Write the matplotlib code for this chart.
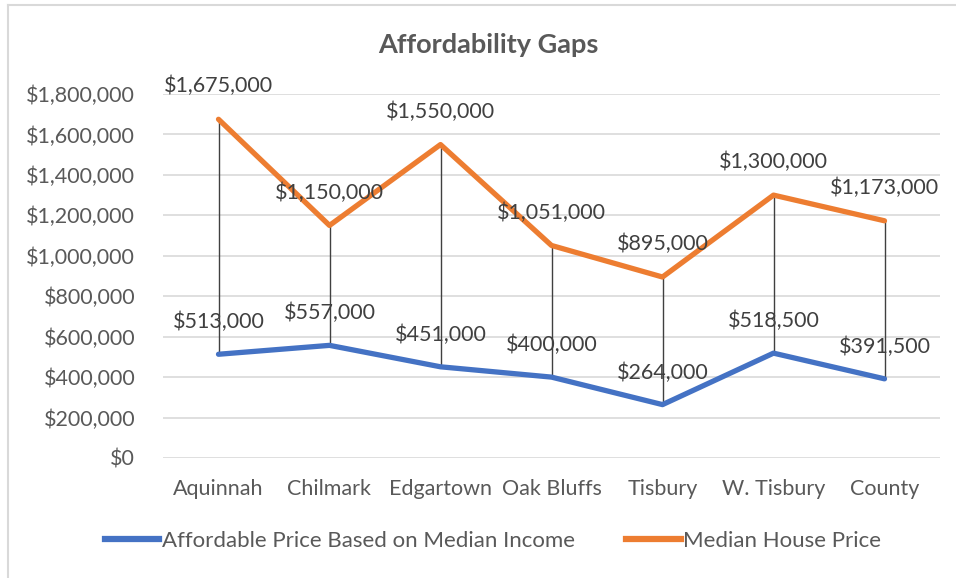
import matplotlib.pyplot as plt
from matplotlib.lines import Line2D
from matplotlib.ticker import FuncFormatter

towns = ["Aquinnah", "Chilmark", "Edgartown", "Oak Bluffs", "Tisbury", "W. Tisbury", "County"]
affordable = [513000, 557000, 451000, 400000, 264000, 518500, 391500]
median_price = [1675000, 1150000, 1550000, 1051000, 895000, 1300000, 1173000]

blue = "#4472c4"
orange = "#ed7d31"
grey_text = "#595959"

plt.rcParams["font.family"] = ["Lato", "DejaVu Sans"]

fig = plt.figure(figsize=(9.56, 5.78), dpi=100)
ax = fig.add_axes([163 / 956, 1 - 458 / 578, 777 / 956, 364 / 578])

x = list(range(len(towns)))

# high-low lines between the two series
for xi, lo, hi in zip(x, affordable, median_price):
    ax.plot([xi, xi], [lo, hi], color="#404040", lw=1, zorder=2)

ax.plot(x, affordable, color=blue, lw=3.8, solid_capstyle="round", zorder=3)
ax.plot(x, median_price, color=orange, lw=3.8, solid_capstyle="round", zorder=3)

for xi, v in zip(x, affordable):
    ax.annotate(f"${v:,.0f}", (xi, v), xytext=(0, 32), textcoords="offset pixels",
                ha="center", va="center", fontsize=15.5, color="#404040", zorder=4)
for xi, v in zip(x, median_price):
    ax.annotate(f"${v:,.0f}", (xi, v), xytext=(0, 33), textcoords="offset pixels",
                ha="center", va="center", fontsize=15.5, color="#404040", zorder=4)

ax.set_xlim(-0.5, len(towns) - 0.5)
ax.set_ylim(0, 1800000)
ax.set_yticks(range(0, 1800001, 200000))
ax.yaxis.set_major_formatter(FuncFormatter(lambda v, p: f"${v:,.0f}"))
ax.set_xticks(x)
ax.set_xticklabels(towns)
ax.tick_params(axis="both", length=0, labelsize=15.5, labelcolor=grey_text)
ax.tick_params(axis="x", pad=15)
ax.tick_params(axis="y", pad=20)
ax.grid(axis="y", color="#d9d9d9", lw=1.2)
ax.set_axisbelow(True)
for s in ax.spines.values():
    s.set_visible(False)

fig.text(488 / 956, 1 - 45 / 578, "Affordability Gaps", ha="center", va="center",
         fontsize=19.5, fontweight="bold", color=grey_text)

handles = [Line2D([], [], color=blue, lw=4.5),
           Line2D([], [], color=orange, lw=4.5)]
fig.legend(handles, ["Affordable Price Based on Median Income", "Median House Price"],
           loc="center", bbox_to_anchor=(493 / 956, 1 - 541 / 578), ncol=2, frameon=False,
           fontsize=16, labelcolor=grey_text, handlelength=2.45, handletextpad=0.12,
           columnspacing=2.3)

# chart frame
fig.add_artist(Line2D([8 / 956, 8 / 956], [0, 1 - 5 / 578], color="#d9d9d9", lw=1.5))
fig.add_artist(Line2D([8 / 956, 1], [1 - 5 / 578, 1 - 5 / 578], color="#d9d9d9", lw=1.5))

fig.savefig("out.png", dpi=100)
